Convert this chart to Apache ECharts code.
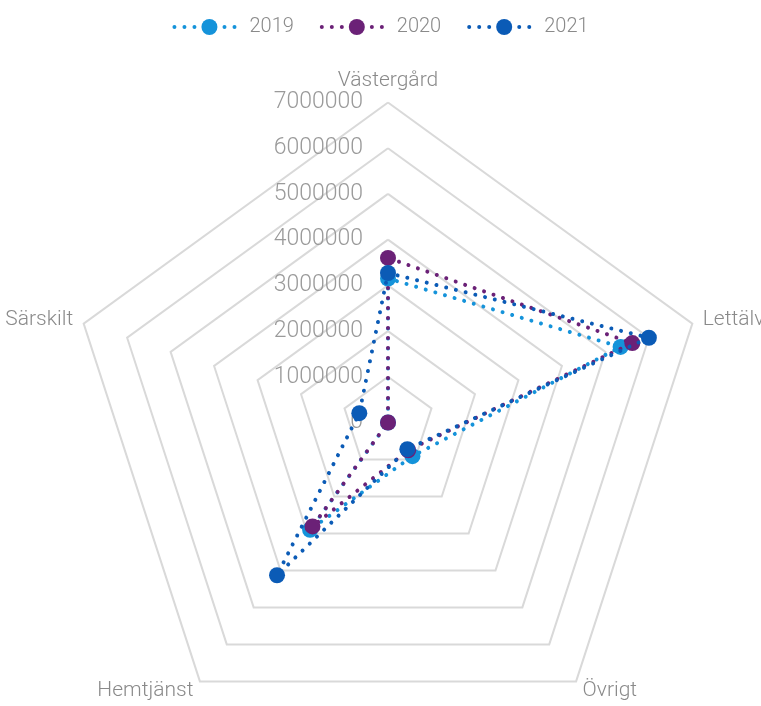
<!DOCTYPE html>
<html>
<head>
<meta charset="utf-8">
<script src="https://cdn.jsdelivr.net/npm/echarts@6/dist/echarts.min.js"></script>
<style>
  html, body { margin: 0; padding: 0; background: #ffffff; }
  #chart { width: 761px; height: 706px; }
</style>
</head>
<body>
<div id="chart"></div>
<script>
// Radar spokes, listed in ECharts order (top, then counter-clockwise)
const categories = ['Västergård', 'Särskilt', 'Hemtjänst', 'Övrigt', 'Lettälv'];
const years = ['2019', '2020', '2021'];
const values2019 = [3150000, 0, 2900000, 910000, 5350000];
const values2020 = [3600000, 0, 2810000, 750000, 5620000];
const values2021 = [3270000, 660000, 4130000, 720000, 6000000];
const scaleMax = 7000000;
const scaleStep = 1000000;

const colors = ['#1593da', '#6b2177', '#0b5bb6'];
const seriesValues = [values2019, values2020, values2021];

// light, fairly narrow lettering
const FONT = "Roboto, 'Noto Sans', sans-serif";
const WEIGHT = 300;
const CENTER = [388, 422.5];
const RADIUS = 320;

const dotted = color => ({ width: 4, type: [0.01, 10], cap: 'round', color: color });

// empty polar line series: they only supply the legend keys (dotted line + dot)
const legendKeys = years.map((year, i) => ({
  name: year,
  type: 'line',
  coordinateSystem: 'polar',
  symbol: 'circle',
  symbolSize: 16,
  lineStyle: dotted(colors[i]),
  itemStyle: { color: colors[i] },
  data: []
}));

const radarSeries = years.map((year, i) => ({
  name: year,
  type: 'radar',
  symbol: 'circle',
  symbolSize: 16,
  z: 2 + i,
  lineStyle: dotted(colors[i]),
  itemStyle: { color: colors[i] },
  data: [{ value: seriesValues[i], name: year }]
}));

const chart = echarts.init(document.getElementById('chart'));
chart.setOption({
  backgroundColor: '#ffffff',
  animation: false,
  color: colors,
  legend: {
    top: 12,
    left: 'center',
    itemWidth: 70,
    itemHeight: 20,
    itemGap: 26,
    lineStyle: { width: 4 },
    textStyle: { fontFamily: FONT, fontWeight: WEIGHT, fontSize: 20, color: '#8a8a8a' },
    data: years
  },
  radar: {
    center: CENTER,
    radius: RADIUS,
    startAngle: 90,
    shape: 'polygon',
    splitNumber: scaleMax / scaleStep,
    axisNameGap: 11,
    axisName: { fontFamily: FONT, fontWeight: WEIGHT, fontSize: 21, color: '#8a8a8a' },
    axisLine: { show: false },
    axisTick: { show: false },
    splitArea: { show: false },
    splitLine: { lineStyle: { color: '#d9d9d9', width: 2 } },
    indicator: categories.map(name => ({ name: name, min: 0, max: scaleMax }))
  },
  polar: { center: CENTER, radius: RADIUS },
  angleAxis: { show: false, startAngle: 90, min: 0, max: 360 },
  radiusAxis: {
    min: 0,
    max: scaleMax,
    interval: scaleStep,
    axisLine: { show: false },
    axisTick: { show: false },
    splitLine: { show: false },
    axisLabel: {
      margin: 25,
      formatter: value => String(value),
      fontFamily: FONT,
      fontWeight: WEIGHT,
      fontSize: 23,
      color: '#9a9a9a'
    }
  },
  series: legendKeys.concat(radarSeries)
});
</script>
</body>
</html>
